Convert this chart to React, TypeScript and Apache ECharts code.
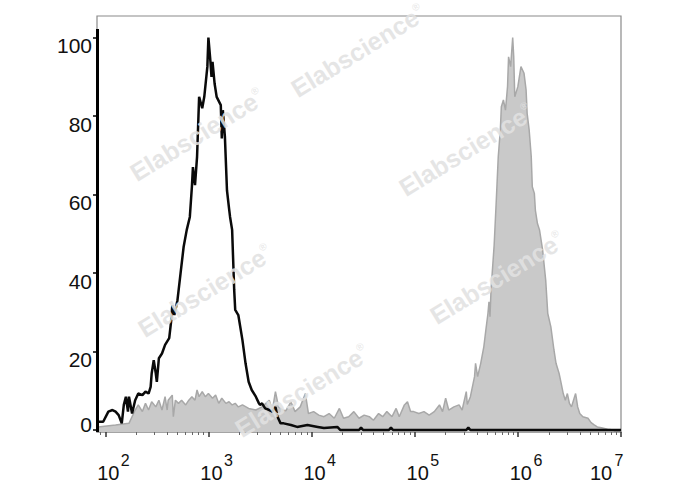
import React, { useEffect, useRef } from 'react';
import * as echarts from 'echarts';

// log10(fluorescence intensity) positions and event counts
const controlLog = [
  1.93, 1.98, 2.03, 2.07, 2.10, 2.13, 2.16, 2.18, 2.20, 2.22, 2.23, 2.26, 2.29, 2.32, 2.36, 2.39,
  2.42, 2.44, 2.45, 2.47, 2.49, 2.50, 2.52, 2.55, 2.58, 2.62, 2.64, 2.65, 2.67, 2.70, 2.73, 2.76,
  2.79, 2.82, 2.84, 2.85, 2.87, 2.89, 2.91, 2.94, 2.96, 2.99, 3.00, 3.02, 3.03, 3.04, 3.06, 3.08,
  3.12, 3.13, 3.14, 3.16, 3.18, 3.20, 3.21, 3.23, 3.25, 3.26, 3.29, 3.33, 3.36, 3.39, 3.42, 3.46,
  3.49, 3.50, 3.52, 3.55, 3.59, 3.62, 3.65, 3.67, 3.70, 3.73, 3.80, 3.86, 3.96, 4.06, 4.12, 4.25,
  4.28, 4.46, 4.48, 4.50, 4.75, 4.77, 4.79, 5.50, 5.52, 5.54, 7.00,
];
const controlCount = [
  2.1, 2.1, 4.7, 5.1, 4.7, 3.8, 1.7, 6.4, 8.5, 4.7, 8.5, 4.2, 7.6, 9.3, 8.9, 9.8,
  9.3, 11, 14.4, 17.8, 14.4, 12.3, 18.3, 19.5, 21.7, 23.4, 28, 31.8, 29.3, 33.1, 39.9, 46.7,
  51, 54.3, 62, 67, 62.4, 69.6, 84.9, 82, 84.9, 92.6, 100, 93.8, 90, 93.8, 88.3, 84.9,
  82.8, 74.3, 81.5, 74.7, 61.1, 56.5, 54.3, 51, 35.7, 30.6, 29.3, 22.9, 17, 12.3, 10.2, 8.5,
  6.8, 6.4, 6.8, 5.5, 5.1, 4.7, 5.9, 3.4, 1.7, 1.7, 1.3, 0.8, 1.3, 0.8, 0.5, 0.8,
  0, 0, 0.6, 0, 0, 0.6, 0, 0, 0.6, 0, 0,
];

const stainedLog = [
  1.93, 2.10, 2.23, 2.29, 2.32, 2.36, 2.39, 2.42, 2.45, 2.49, 2.52, 2.55, 2.58, 2.60, 2.61, 2.65,
  2.66, 2.68, 2.71, 2.74, 2.78, 2.81, 2.84, 2.87, 2.89, 2.91, 2.94, 2.97, 3.00, 3.04, 3.07, 3.10,
  3.13, 3.17, 3.20, 3.23, 3.26, 3.29, 3.33, 3.39, 3.46, 3.52, 3.59, 3.62, 3.65, 3.68, 3.72, 3.75,
  3.80, 3.84, 3.89, 3.94, 3.97, 4.02, 4.07, 4.12, 4.17, 4.22, 4.27, 4.31, 4.36, 4.41, 4.46, 4.51,
  4.56, 4.60, 4.65, 4.69, 4.73, 4.78, 4.82, 4.85, 4.90, 4.93, 4.96, 4.99, 5.04, 5.09, 5.14, 5.19,
  5.24, 5.27, 5.30, 5.33, 5.38, 5.43, 5.46, 5.50, 5.51, 5.54, 5.58, 5.59, 5.61, 5.64, 5.67, 5.69,
  5.71, 5.72, 5.73, 5.74, 5.77, 5.79, 5.81, 5.83, 5.84, 5.86, 5.88, 5.90, 5.91, 5.93, 5.95, 5.96,
  5.97, 6.00, 6.03, 6.06, 6.08, 6.09, 6.11, 6.13, 6.14, 6.16, 6.17, 6.19, 6.21, 6.24, 6.27, 6.29,
  6.32, 6.35, 6.37, 6.40, 6.42, 6.44, 6.46, 6.48, 6.50, 6.52, 6.55, 6.56, 6.58, 6.60, 6.63, 6.68,
  6.71, 6.74, 6.77, 6.81, 6.87, 6.93,
];
const stainedCount = [
  0.8, 1.3, 1.7, 5.1, 6.4, 4.7, 6.8, 5.1, 7.2, 5.9, 7.6, 5.1, 8.5, 5.1, 7.6, 8.9,
  3.4, 7.6, 6.8, 7.6, 6.4, 7.6, 8.5, 7.6, 10.2, 8.5, 9.8, 8.5, 9.3, 8.1, 8.9, 6.8,
  8.1, 6.8, 7.2, 6.4, 6.8, 5.9, 6.4, 5.5, 5.1, 5.9, 7.6, 5.1, 9.8, 5.9, 5.1, 4.9,
  7.2, 4.7, 5.9, 9.3, 4.2, 4.7, 3.8, 3.4, 4.2, 3.0, 5.5, 3.0, 3.4, 4.7, 3.0, 3.8,
  3.4, 2.5, 4.2, 3.4, 4.7, 3.4, 5.5, 3.4, 6.4, 7.2, 4.7, 4.7, 4.2, 4.7, 3.8, 4.7,
  6.4, 4.7, 8.1, 5.1, 5.9, 6.4, 5.1, 9.8, 6.5, 8.5, 13.6, 17, 13.6, 17, 21.2, 25.5,
  29.7, 32.7, 28.9, 35.7, 47, 58, 69.6, 76.4, 82.4, 84.1, 81.5, 87.5, 95.1, 92.6, 100, 95.1,
  84.9, 87.5, 92.6, 90.9, 86.6, 80.7, 76.4, 69.6, 62, 60.3, 56, 52.6, 51, 45.9, 38.2, 29.7,
  26.3, 20.4, 17, 14.4, 11.9, 9.3, 7.6, 9.3, 6.8, 5.9, 8.5, 9.3, 5.9, 4.2, 3.4, 3.0,
  1.9, 1.3, 0.8, 0.6, 0.2, 0,
];

const decadeExponents = [2, 3, 4, 5, 6, 7];
const countTicks = [0, 20, 40, 60, 80, 100];
const upperCountLabels = [20, 40, 60, 80, 100];
const zeroCountLabel = [0];
const minorMultipliers = [2, 3, 4, 5, 6, 7, 8, 9];
const watermarkLabel = 'Elabscience';

const X_MIN = 1.92;
const X_MAX = 7;
const Y_MIN = -0.5;
const Y_MAX = 105.5;
const LEFT_LINE_TOP = 102.2;

const FONT = '"Liberation Sans", Arial, Helvetica, sans-serif';

const watermarkSpots = [
  [358, 51],
  [197, 135],
  [466, 150],
  [205, 291],
  [497, 278],
  [302, 391],
];

export default function App() {
  const ref = useRef<HTMLDivElement>(null);

  useEffect(() => {
    if (!ref.current) return;
    const chart = echarts.init(ref.current, null, { renderer: 'svg' });

    const minorTicks: number[] = [];
    for (let d = 1; d <= 6; d++) {
      for (const m of minorMultipliers) {
        const v = d + Math.log10(m);
        if (v > X_MIN && v < X_MAX) minorTicks.push(+v.toFixed(4));
      }
    }

    const controlData = controlLog.map((x, i) => [x, controlCount[i]]);
    const stainedData = stainedLog.map((x, i) => [x, stainedCount[i]]);

    const wmColor = 'rgba(226,226,226,0.88)';
    const watermarks = watermarkSpots.map(([x, y]) => ({
      type: 'text',
      x,
      y,
      rotation: 0.55,
      z: 100,
      silent: true,
      style: {
        text: `{a|${watermarkLabel}}{r|®}`,
        align: 'center',
        verticalAlign: 'middle',
        rich: {
          a: { fontSize: 25, fontWeight: 'bold', fontFamily: FONT, fill: wmColor, color: wmColor },
          r: { fontSize: 10, fontFamily: FONT, verticalAlign: 'top', fill: wmColor, color: wmColor },
        },
      },
    }));

    const yBase = {
      type: 'value',
      min: Y_MIN,
      max: Y_MAX,
      position: 'left',
      axisLine: { show: false, onZero: false },
      splitLine: { show: false },
    };

    const option: any = {
      animation: false,
      backgroundColor: '#ffffff',
      textStyle: { fontFamily: FONT },
      grid: {
        left: 97,
        right: 67,
        top: 16,
        bottom: 58,
        show: true,
        borderColor: '#8a8a8a',
        borderWidth: 1.2,
        backgroundColor: 'transparent',
      },
      xAxis: [
        {
          type: 'value',
          min: X_MIN,
          max: X_MAX,
          position: 'bottom',
          axisLine: { show: true, onZero: false, lineStyle: { color: '#999999', width: 1.5 } },
          axisTick: { show: true, customValues: decadeExponents, length: 5, lineStyle: { color: '#333333', width: 1.5 } },
          axisLabel: {
            show: true,
            customValues: decadeExponents,
            margin: 31,
            formatter: (v: number) => (Math.round(v) === 7 ? '{last|10}' : '{base|10}'),
            rich: {
              base: { fontSize: 20, lineHeight: 20, padding: [0, 0, 0, 6], color: '#111', fontFamily: FONT },
              last: { fontSize: 20, lineHeight: 20, padding: [0, 40, 0, 0], color: '#111', fontFamily: FONT },
            },
          },
          splitLine: { show: false },
        },
        {
          type: 'value',
          min: X_MIN,
          max: X_MAX,
          position: 'bottom',
          axisLine: { show: false, onZero: false },
          axisTick: { show: true, customValues: minorTicks, length: 3, lineStyle: { color: '#666666', width: 1 } },
          axisLabel: {
            show: true,
            customValues: decadeExponents,
            margin: 20,
            formatter: (v: number) => {
              const n = Math.round(v);
              return n === 7 ? `{el|${n}}` : `{e|${n}}`;
            },
            rich: {
              e: { fontSize: 16, lineHeight: 16, padding: [0, 0, 0, 40], color: '#111', fontFamily: FONT },
              el: { fontSize: 16, lineHeight: 16, padding: [0, 4, 0, 0], color: '#111', fontFamily: FONT },
            },
          },
          splitLine: { show: false },
        },
      ],
      yAxis: [
        {
          ...yBase,
          axisTick: { show: true, customValues: countTicks, length: 4, lineStyle: { color: '#000', width: 1.5 } },
          axisLabel: {
            show: true,
            customValues: upperCountLabels,
            fontSize: 21,
            lineHeight: 16,
            verticalAlign: 'top',
            color: '#111',
            margin: 5,
            fontFamily: FONT,
          },
        },
        {
          ...yBase,
          axisTick: { show: false },
          axisLabel: {
            show: true,
            customValues: zeroCountLabel,
            fontSize: 21,
            lineHeight: 12,
            verticalAlign: 'bottom',
            color: '#111',
            margin: 5,
            fontFamily: FONT,
          },
        },
      ],
      series: [
        {
          type: 'line',
          name: 'Stained',
          xAxisIndex: 0,
          yAxisIndex: 0,
          data: stainedData,
          symbol: 'none',
          z: 2,
          lineStyle: { color: '#a8a8a8', width: 1.5 },
          areaStyle: { color: '#c9c9c9', origin: 'start', opacity: 1 },
        },
        {
          type: 'line',
          name: 'Control',
          xAxisIndex: 0,
          yAxisIndex: 0,
          data: controlData,
          symbol: 'none',
          clip: false,
          z: 3,
          lineStyle: { color: '#0a0a0a', width: 2.5 },
          markLine: {
            silent: true,
            symbol: ['none', 'none'],
            label: { show: false },
            lineStyle: { color: '#000', width: 3, type: 'solid' },
            data: [[{ coord: [X_MIN, Y_MIN] }, { coord: [X_MIN, LEFT_LINE_TOP] }]],
          },
        },
      ],
      graphic: watermarks,
    };

    chart.setOption(option);
    return () => chart.dispose();
  }, []);

  return (
    <div
      ref={ref}
      style={{ position: 'fixed', left: 0, top: 0, width: 688, height: 490 }}
    />
  );
}
